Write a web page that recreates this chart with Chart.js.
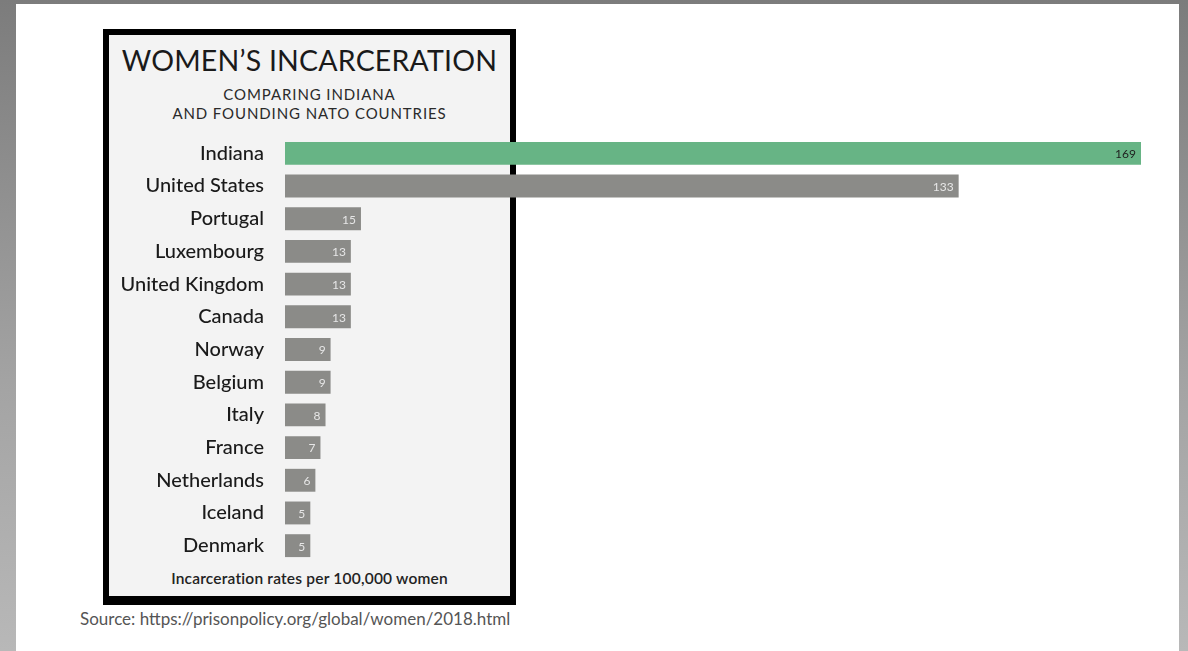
<!DOCTYPE html>
<html>
<head>
<meta charset="utf-8">
<script src="https://cdn.jsdelivr.net/npm/chart.js@4"></script>
<style>
    html, body { margin: 0; padding: 0; }
    body {
        width: 1188px; height: 651px; overflow: hidden; position: relative;
        background: linear-gradient(180deg, #7c7c7c 0%, #a4a4a4 60%, #b8b8b8 100%);
        font-family: "Lato", sans-serif;
    }
    #page { position: absolute; left: 16px; top: 4px; width: 1163px; height: 647px; background: #fff; }
    #box {
        position: absolute; left: 103px; top: 29px; width: 401px; height: 561px;
        background: #f3f3f3; border: 6px solid #000; border-bottom-width: 9px;
    }
    .t { position: absolute; left: 103px; width: 413px; text-align: center; color: #1a1a1a; }
    #title { top: 43px; font-size: 28.5px; letter-spacing: 0.2px; }
    #sub { top: 85px; font-size: 15px; line-height: 19px; color: #2a2a2a; letter-spacing: 0.9px; }
    #foot { top: 569px; font-size: 15.5px; font-weight: 600; color: #222; letter-spacing: 0.2px; }
    #src { position: absolute; left: 80px; top: 608px; font-size: 17px; color: #555; }
    #wrap { position: absolute; left: 110px; top: 137px; width: 1031px; height: 425px; }
</style>
</head>
<body>
<div id="page"></div>
<div id="box"></div>
<div class="t" id="title">WOMEN’S INCARCERATION</div>
<div class="t" id="sub">COMPARING INDIANA<br>AND FOUNDING NATO COUNTRIES</div>
<div class="t" id="foot">Incarceration rates per 100,000 women</div>
<div id="src">Source: https://prisonpolicy.org/global/women/2018.html</div>
<div id="wrap"><canvas id="chart"></canvas></div>
<script>
var countries = ['Indiana', 'United States', 'Portugal', 'Luxembourg', 'United Kingdom', 'Canada',
    'Norway', 'Belgium', 'Italy', 'France', 'Netherlands', 'Iceland', 'Denmark'];
var rates = [169, 133, 15, 13, 13, 13, 9, 9, 8, 7, 6, 5, 5];

var green = '#67b485';
var grey = '#8b8b88';
var barColors = countries.map(function(c) { return c === 'Indiana' ? green : grey; });

// writes the value just inside the end of each bar
var valueLabels = {
    id: 'valueLabels',
    afterDatasetsDraw: function(chart) {
        var ctx = chart.ctx;
        var meta = chart.getDatasetMeta(0);
        ctx.save();
        ctx.font = '12px "Lato", sans-serif';
        ctx.textAlign = 'right';
        ctx.textBaseline = 'middle';
        meta.data.forEach(function(bar, i) {
            ctx.fillStyle = i === 0 ? '#1e1e1e' : '#e6e6e6';
            ctx.fillText(rates[i], bar.x - 5, bar.y + 1);
        });
        ctx.restore();
    }
};

new Chart(document.getElementById('chart'), {
    type: 'bar',
    data: {
        labels: countries,
        datasets: [{
            data: rates,
            backgroundColor: barColors,
            barPercentage: 0.7,
            categoryPercentage: 1
        }]
    },
    options: {
        indexAxis: 'y',
        responsive: true,
        maintainAspectRatio: false,
        animation: false,
        layout: { padding: 0 },
        plugins: { legend: { display: false }, tooltip: { enabled: false } },
        scales: {
            x: { display: false, min: 0, max: 169 },
            y: {
                grid: { display: false, drawTicks: false },
                border: { display: false },
                ticks: { color: '#1a1a1a', padding: 21, font: { size: 20, weight: '500', family: '"Lato", sans-serif' } },
                afterFit: function(s) {
                    s.width = 175;
                    // rows already carry half a row of space, so no label padding is needed
                    s.paddingTop = 0;
                    s.paddingBottom = 0;
                }
            }
        }
    },
    plugins: [valueLabels]
});
</script>
</body>
</html>
